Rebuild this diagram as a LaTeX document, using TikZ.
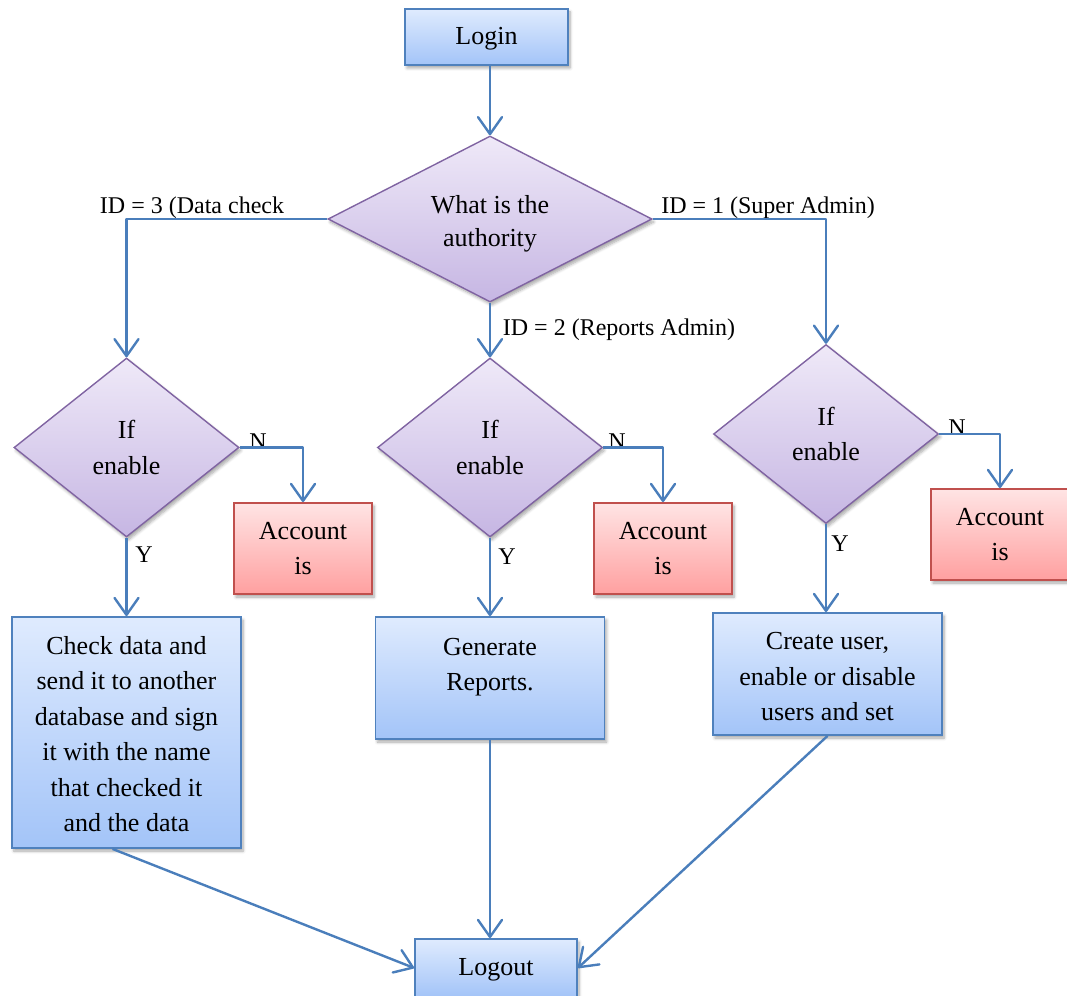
\documentclass[tikz,border=0pt]{standalone}
\usepackage{fontspec}
\setmainfont{Liberation Serif}
\usetikzlibrary{shapes.geometric,arrows.meta,shadows,shadows.blur}
\definecolor{bluetop}{RGB}{223,235,254}
\definecolor{bluebot}{RGB}{163,196,248}
\definecolor{blueedge}{RGB}{79,129,189}
\definecolor{purtop}{RGB}{239,233,248}
\definecolor{purbot}{RGB}{198,182,227}
\definecolor{puredge}{RGB}{128,100,162}
\definecolor{redtop}{RGB}{255,228,228}
\definecolor{redbot}{RGB}{255,160,160}
\definecolor{rededge}{RGB}{192,80,77}
\definecolor{conncol}{RGB}{74,126,187}
\tikzset{
  shad/.style={blur shadow={shadow xshift=2pt, shadow yshift=-3pt, shadow blur radius=3pt, shadow blur steps=6, shadow opacity=35}},
  bluebox/.style={shad, rectangle, draw=blueedge, line width=1.8pt, top color=bluetop, bottom color=bluebot, align=center, inner sep=0pt, font=\fontsize{26}{35.5}\selectfont},
  redbox/.style={shad, rectangle, draw=rededge, line width=1.8pt, top color=redtop, bottom color=redbot, align=center, inner sep=0pt, font=\fontsize{26}{35.5}\selectfont},
  decision/.style={shad, diamond, draw=puredge, line width=1.4pt, top color=purtop, bottom color=purbot, align=center, inner sep=0pt, font=\fontsize{26}{35.5}\selectfont},
  conn/.style={draw=conncol, line width=2.4pt, line join=round, -{Straight Barb[length=17pt, width=24pt, line width=2.4pt, round]}},
  lbl/.style={inner sep=0pt, font=\fontsize{24}{28}\selectfont},
  plain/.style={inner sep=0pt, align=center, font=\fontsize{26}{35.5}\selectfont}
}
\begin{document}
\begin{tikzpicture}[x=1pt, y=-1pt]
\useasboundingbox (0,0) rectangle (1067,995);
% nodes
\node[bluebox, minimum width=163pt, minimum height=56pt] (login) at (486.5,37) {};
\node[plain] (logintext) at (486.5,39) {Login};
\node[decision, minimum width=324pt, minimum height=166pt, aspect=1.95] (main) at (490,219) {};
\node[plain, font=\fontsize{26}{33.5}\selectfont] (maintext) at (490,224) {What is the\\authority};
\node[decision, minimum width=225pt, minimum height=179pt, aspect=1.257] (d3) at (126.5,447.5) {If\\enable};
\node[decision, minimum width=225pt, minimum height=179pt, aspect=1.257] (d2) at (490,447.5) {If\\enable};
\node[decision, minimum width=225pt, minimum height=179pt, aspect=1.257] (d1) at (826,434) {If\\enable};
\node[redbox, minimum width=138pt, minimum height=91pt] (a3) at (303,548.5) {Account\\is};
\node[redbox, minimum width=138pt, minimum height=91pt] (a2) at (663,548.5) {Account\\is};
\node[redbox, minimum width=138pt, minimum height=91pt] (a1) at (1000,534.5) {Account\\is};
\node[bluebox, minimum width=229pt, minimum height=231pt] (b3) at (126.5,732.5) {};
\node[plain] (b3text) at (126.5,734) {Check data and\\send it to another\\database and sign\\it with the name\\that checked it\\and the data};
\node[bluebox, minimum width=229pt, minimum height=122pt] (b2) at (490,678) {};
\node[plain] (b2text) at (490,667) {Generate\\Reports.};
\node[bluebox, minimum width=229pt, minimum height=122pt] (b1) at (827.5,674) {};
\node[plain] (b1text) at (827.5,677) {Create user,\\enable or disable\\users and set};
\node[bluebox, minimum width=162pt, minimum height=58pt] (logout) at (496,968) {};
\node[plain] (logouttext) at (496,970) {Logout};
% labels
\node[lbl] (l3) at (192,208) {ID = 3 (Data check};
\node[lbl] (l1) at (768,208) {ID = 1 (Super Admin)};
\node[lbl] (l2) at (619,330) {ID = 2 (Reports Admin)};
\node[lbl] (n3) at (258,442) {N};
\node[lbl] (n2) at (617,442) {N};
\node[lbl] (n1) at (957,428) {N};
\node[lbl] (y3) at (144,555) {Y};
\node[lbl] (y2) at (507,557) {Y};
\node[lbl] (y1) at (840,544) {Y};
% connectors
\draw[conn] (main.north |- login.south) -- (main.north);
\draw[conn] (main.west) -| (d3.north);
\draw[conn] (main.east) -| (d1.north);
\draw[conn] (main.south) -- (d2.north);
\draw[conn] (d3.east) -| (a3.north);
\draw[conn] (d2.east) -| (a2.north);
\draw[conn] (d1.east) -| (a1.north);
\draw[conn] (d3.south) -- (b3.north);
\draw[conn] (d2.south) -- (b2.north);
\draw[conn] (d1.south) -- (d1.south |- b1.north);
\draw[conn] ([xshift=-14pt]b3.south) -- (logout.west);
\draw[conn] (b2.south) -- (b2.south |- logout.north);
\draw[conn] (b1.south) -- (logout.east);
\end{tikzpicture}
\end{document}
